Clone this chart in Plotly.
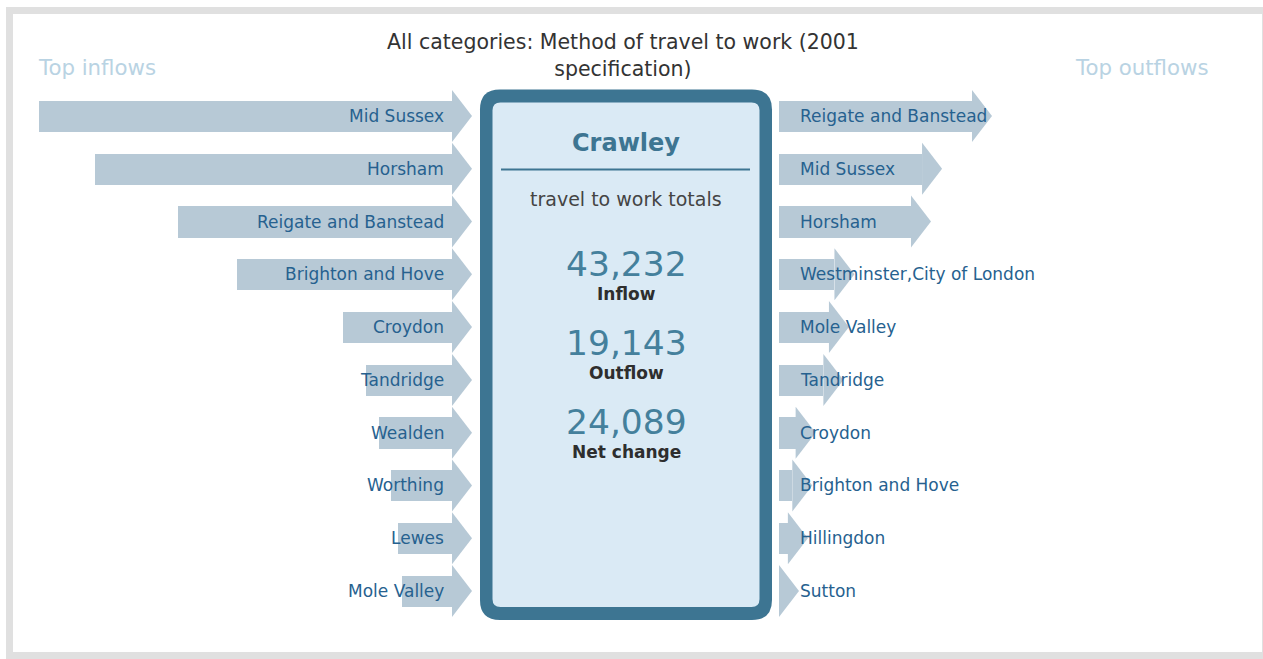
import plotly.graph_objects as go

# ---- data -------------------------------------------------------------
place = "Crawley"
title_text = "All categories: Method of travel to work (2001<br>specification)"

inflow_areas = ["Mid Sussex", "Horsham", "Reigate and Banstead", "Brighton and Hove",
                "Croydon", "Tandridge", "Wealden", "Worthing", "Lewes", "Mole Valley"]
inflow_values = [7430, 6420, 4930, 3870, 1960, 1550, 1310, 1100, 970, 900]

outflow_areas = ["Reigate and Banstead", "Mid Sussex", "Horsham", "Westminster,City of London",
                 "Mole Valley", "Tandridge", "Croydon", "Brighton and Hove", "Hillingdon", "Sutton"]
outflow_values = [2450, 2000, 1900, 1210, 1160, 1110, 860, 830, 790, 710]

total_labels = ["Inflow", "Outflow", "Net change"]
total_values = [43232, 19143, 24089]

ranks = list(range(1, len(inflow_areas) + 1))

# ---- page geometry / styling ------------------------------------------
W, H = 1263, 659
FONT = "DejaVu Sans"
ARROW = "#b7c9d6"
LABEL = "#26618f"
BOX_EDGE = "#3d7592"
BOX_FILL = "#daeaf5"
HEAD_LEN = 20      # arrow head length (px)
HEAD_HALF = 26     # arrow head half height (px)
LABEL_SIZE = 17


def px(x):
    return x / W


def py(y):
    return 1 - y / H


# row layout: first row centre at 116px, last at 591px
row_gap = (591 - 116) / (len(ranks) - 1)
y_dom = [py(591 + row_gap / 2), py(116 - row_gap / 2)]

# inflow scale (reversed axis, arrows grow leftwards from 0)
in_left, in_zero = 39, 452
k_in = (in_zero - in_left) / max(inflow_values)
in_range = [max(inflow_values), -(HEAD_LEN + 4) / k_in]
in_dom = [px(in_left), px(in_zero + HEAD_LEN + 4)]

# outflow scale (arrows start at the smallest flow)
out_base = min(outflow_values)
out_start, out_top = 779, 972
k_out = (out_top - out_start) / (max(outflow_values) - out_base)
out_right = 1040
out_range = [out_base, out_base + (out_right - out_start) / k_out]
out_dom = [px(out_start), px(out_right)]

fig = go.Figure()

fig.add_trace(go.Bar(
    x=inflow_values, y=ranks, orientation="h", xaxis="x", yaxis="y",
    width=0.59, marker=dict(color=ARROW, line=dict(width=0)),
    hovertext=inflow_areas, hoverinfo="text+x", textposition="none", showlegend=False,
))
fig.add_trace(go.Bar(
    x=[v - out_base for v in outflow_values], base=out_base, y=ranks,
    orientation="h", xaxis="x2", yaxis="y",
    width=0.59, marker=dict(color=ARROW, line=dict(width=0)),
    hovertext=outflow_areas, hoverinfo="text", textposition="none", showlegend=False,
))

head_path = f"M0,{HEAD_HALF} L{HEAD_LEN},0 L0,{-HEAD_HALF} Z"
shapes = []
annotations = []

for r, name in zip(ranks, inflow_areas):
    shapes.append(dict(type="path", xref="x", yref="y", xsizemode="pixel", ysizemode="pixel",
                       xanchor=0, yanchor=r, path=head_path,
                       fillcolor=ARROW, line=dict(width=0), layer="below"))
    annotations.append(dict(xref="x", yref="y", x=0, y=r, xshift=-6, xanchor="right",
                            yanchor="middle", text=name, showarrow=False,
                            font=dict(family=FONT, size=LABEL_SIZE, color=LABEL)))

for r, name, v in zip(ranks, outflow_areas, outflow_values):
    shapes.append(dict(type="path", xref="x2", yref="y", xsizemode="pixel", ysizemode="pixel",
                       xanchor=v, yanchor=r, path=head_path,
                       fillcolor=ARROW, line=dict(width=0), layer="below"))
    annotations.append(dict(xref="x2", yref="y", x=out_base, y=r, xshift=19, xanchor="left",
                            yanchor="middle", text=name, showarrow=False,
                            font=dict(family=FONT, size=LABEL_SIZE, color=LABEL)))


def rounded_rect(x0, y0, x1, y1, r):
    pts = [
        f"M{px(x0 + r)},{py(y0)}", f"L{px(x1 - r)},{py(y0)}",
        f"Q{px(x1)},{py(y0)} {px(x1)},{py(y0 + r)}", f"L{px(x1)},{py(y1 - r)}",
        f"Q{px(x1)},{py(y1)} {px(x1 - r)},{py(y1)}", f"L{px(x0 + r)},{py(y1)}",
        f"Q{px(x0)},{py(y1)} {px(x0)},{py(y1 - r)}", f"L{px(x0)},{py(y0 + r)}",
        f"Q{px(x0)},{py(y0)} {px(x0 + r)},{py(y0)}", "Z",
    ]
    return " ".join(pts)


# centre summary card
shapes.append(dict(type="path", xref="paper", yref="paper",
                   path=rounded_rect(480, 89.5, 772, 620, 20),
                   fillcolor=BOX_EDGE, line=dict(width=0), layer="above"))
shapes.append(dict(type="path", xref="paper", yref="paper",
                   path=rounded_rect(492.5, 102.5, 759.5, 607, 8),
                   fillcolor=BOX_FILL, line=dict(width=0), layer="above"))
shapes.append(dict(type="line", xref="paper", yref="paper",
                   x0=px(501), x1=px(750), y0=py(169.5), y1=py(169.5),
                   line=dict(color=BOX_EDGE, width=2), layer="above"))

# outer frame
shapes.append(dict(type="rect", xref="paper", yref="paper",
                   x0=px(9.5), x1=px(1265.5), y0=py(10.5), y1=py(655.5),
                   line=dict(color="#e0e0e0", width=7), fillcolor="rgba(0,0,0,0)"))

cx = px(626)
annotations += [
    dict(xref="paper", yref="paper", x=px(623), y=py(55.5), xanchor="center", yanchor="middle",
         text=title_text, showarrow=False, font=dict(family=FONT, size=20.5, color="#333333")),
    dict(xref="paper", yref="paper", x=px(36), y=py(67), xanchor="left", yanchor="middle",
         text="Top inflows", showarrow=False, font=dict(family=FONT, size=21.3, color="#b9d3e3")),
    dict(xref="paper", yref="paper", x=px(1211), y=py(67), xanchor="right", yanchor="middle",
         text="Top outflows", showarrow=False, font=dict(family=FONT, size=21.3, color="#b9d3e3")),
    dict(xref="paper", yref="paper", x=cx, y=py(143), xanchor="center", yanchor="middle",
         text=f"<b>{place}</b>", showarrow=False, font=dict(family=FONT, size=24, color=BOX_EDGE)),
    dict(xref="paper", yref="paper", x=cx, y=py(199), xanchor="center", yanchor="middle",
         text="travel to work totals", showarrow=False,
         font=dict(family=FONT, size=19, color="#444444")),
]

for i, (lab, val) in enumerate(zip(total_labels, total_values)):
    y0 = 264 + i * 79
    annotations.append(dict(xref="paper", yref="paper", x=cx, y=py(y0), xanchor="center",
                            yanchor="middle", text=f"{val:,}", showarrow=False,
                            font=dict(family=FONT, size=34.5, color="#44809c")))
    annotations.append(dict(xref="paper", yref="paper", x=cx, y=py(y0 + 30), xanchor="center",
                            yanchor="middle", text=f"<b>{lab}</b>", showarrow=False,
                            font=dict(family=FONT, size=17, color="#2e2e2e")))

hidden = dict(visible=False, showgrid=False, zeroline=False, fixedrange=True)
fig.update_layout(
    width=W, height=H, margin=dict(l=0, r=0, t=0, b=0),
    paper_bgcolor="white", plot_bgcolor="rgba(0,0,0,0)",
    xaxis=dict(domain=in_dom, range=in_range, anchor="y", **hidden),
    xaxis2=dict(domain=out_dom, range=out_range, anchor="y", **hidden),
    yaxis=dict(domain=y_dom, range=[len(ranks) + 0.5, 0.5], **hidden),
    bargap=0, shapes=shapes, annotations=annotations, showlegend=False,
)

fig.write_html("out.html")
